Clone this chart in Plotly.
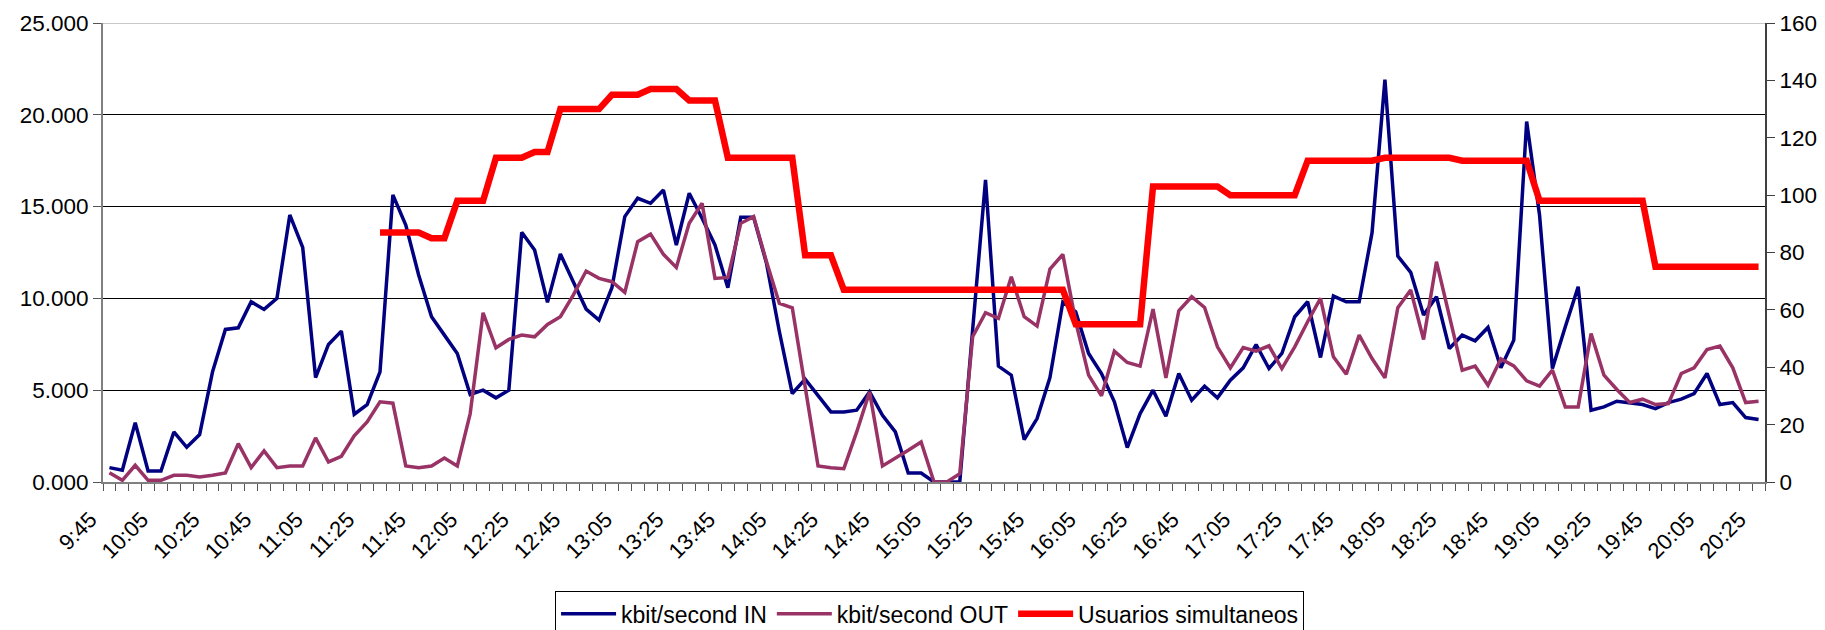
import plotly.graph_objects as go

# time categories (5-minute samples, 9:45 .. 20:25)
times = []
h, m = 9, 45
while (h, m) <= (20, 25):
    times.append(f"{h}:{m:02d}")
    m += 5
    if m == 60:
        h, m = h + 1, 0

kbit_in = [782, 636, 3236, 600, 600, 2727, 1891, 2582, 6000, 8309,
           8400, 9818, 9400, 10000, 14545, 12782, 5690, 7490, 8218, 3690,
           4218, 6000, 15636, 14000, 11273, 9000, 8000, 7000, 4764, 5000,
           4582, 5000, 13600, 12636, 9782, 12418, 10909, 9418, 8818, 10582,
           14455, 15455, 15182, 15900, 12909, 15727, 14364, 12909, 10582, 14418,
           14418, 11909, 8182, 4818, 5600, 4727, 3818, 3818, 3909, 4909,
           3636, 2727, 491, 491, 0, 0, 0, 8300, 16455, 6309,
           5818, 2309, 3454, 5690, 9800, 9272, 7000, 5909, 4364, 1873,
           3727, 5000, 3582, 5909, 4454, 5218, 4582, 5545, 6218, 7490,
           6181, 7000, 9000, 9818, 6781, 10127, 9818, 9818, 13581, 21909,
           12309, 11418, 9090, 10090, 7272, 8000, 7690, 8418, 6218, 7727,
           19636, 14545, 6181, 8454, 10636, 3909, 4090, 4400, 4327, 4218,
           4000, 4327, 4509, 4818, 5909, 4218, 4327, 3509, 3400]

kbit_out = [509, 91, 909, 91, 91, 364, 364, 273, 364, 491,
            2091, 782, 1691, 782, 873, 873, 2400, 1091, 1400, 2509,
            3273, 4364, 4291, 873, 782, 873, 1309, 873, 3727, 9218,
            7309, 7764, 8000, 7909, 8582, 9000, 10182, 11490, 11090, 10909,
            10327, 13091, 13500, 12400, 11690, 14090, 15180, 11090, 11145, 14090,
            14454, 12000, 9727, 9490, 5180, 873, 782, 727, 2727, 4909,
            873, 1273, 1727, 2182, 0, 0, 454, 7909, 9218, 8909,
            11181, 9000, 8490, 11600, 12400, 8727, 5818, 4690, 7127, 6509,
            6309, 9418, 5672, 9327, 10090, 9509, 7360, 6218, 7327, 7127,
            7418, 6181, 7363, 8727, 10000, 6818, 5872, 8000, 6727, 5672,
            9490, 10454, 7763, 12000, 9000, 6090, 6309, 5272, 6700, 6327,
            5509, 5218, 6090, 4090, 4090, 8090, 5818, 5036, 4327, 4509,
            4218, 4272, 5909, 6218, 7218, 7400, 6218, 4327, 4400]

usuarios = ([None] * 21
            + [87, 87, 87, 87, 85, 85, 98, 98, 98, 113,
               113, 113, 115, 115, 130, 130, 130, 130, 135, 135,
               135, 137, 137, 137, 133, 133, 133, 113, 113, 113,
               113, 113, 113, 79, 79, 79, 67, 67, 67, 67,
               67, 67, 67, 67, 67, 67, 67, 67, 67, 67,
               67, 67, 67, 67, 55, 55, 55, 55, 55, 55,
               103, 103, 103, 103, 103, 103, 100, 100, 100, 100,
               100, 100, 112, 112, 112, 112, 112, 112, 113, 113,
               113, 113, 113, 113, 112, 112, 112, 112, 112, 112,
               98, 98, 98, 98, 98, 98, 98, 98, 98, 75,
               75, 75, 75, 75, 75, 75, 75, 75])

left_ticks = [0, 5000, 10000, 15000, 20000, 25000]
left_labels = ["0.000", "5.000", "10.000", "15.000", "20.000", "25.000"]
right_ticks = [0, 20, 40, 60, 80, 100, 120, 140, 160]

xpos = list(range(len(times)))
label_idx = list(range(0, len(times), 4))

FONT = "Liberation Sans, Arial, sans-serif"

fig = go.Figure()
fig.add_trace(go.Scatter(x=xpos, y=kbit_in, mode="lines", name="kbit/second IN",
                         line=dict(color="#000080", width=3.5)))
fig.add_trace(go.Scatter(x=xpos, y=kbit_out, mode="lines", name="kbit/second OUT",
                         line=dict(color="#993366", width=3.5)))
fig.add_trace(go.Scatter(x=xpos, y=usuarios, mode="lines", name="Usuarios simultaneos",
                         yaxis="y2", line=dict(color="#FF0000", width=6.5)))

# light top border line of the plot area
fig.add_shape(type="line", xref="paper", yref="y", x0=0, x1=1, y0=25000, y1=25000,
              line=dict(color="#c8c8c8", width=2), layer="below")

fig.update_layout(
    width=1825, height=630,
    margin=dict(l=95, r=68, t=15, b=156, autoexpand=False),
    paper_bgcolor="white", plot_bgcolor="white",
    font=dict(family=FONT, size=22, color="black"),
    showlegend=True,
    legend=dict(orientation="h", x=0.272, xanchor="left", y=-0.238, yanchor="top",
                bordercolor="black", borderwidth=1, bgcolor="white",
                font=dict(size=23, family=FONT), itemwidth=55,
                traceorder="normal"),
    xaxis=dict(range=[-0.5, len(times) - 0.5], tickmode="array",
               tickvals=label_idx, ticktext=[times[i] for i in label_idx],
               tickangle=-45, ticks="", showgrid=False, zeroline=False,
               showline=True, linecolor="#808080", linewidth=2,
               tickfont=dict(size=22), ticklabelshift=-19, ticklabelstandoff=14,
               minor=dict(tickmode="array",
                          tickvals=[i - 0.5 for i in range(len(times) + 1)],
                          ticks="outside", ticklen=7, tickcolor="#555555",
                          tickwidth=1, showgrid=False)),
    yaxis=dict(range=[0, 25000], tickmode="array", tickvals=left_ticks,
               ticktext=left_labels, showgrid=True, gridcolor="black", gridwidth=1,
               zeroline=False, showline=True, linecolor="#808080", linewidth=2,
               ticks="outside", ticklen=8, tickcolor="#555555",
               tickfont=dict(size=22.5)),
    yaxis2=dict(range=[0, 160], tickmode="array", tickvals=right_ticks,
                overlaying="y", side="right", showgrid=False, zeroline=False,
                showline=True, linecolor="#404040", linewidth=2,
                ticks="outside", ticklen=8, tickcolor="#404040",
                tickfont=dict(size=22.5)),
)

fig.write_html("out.html")
